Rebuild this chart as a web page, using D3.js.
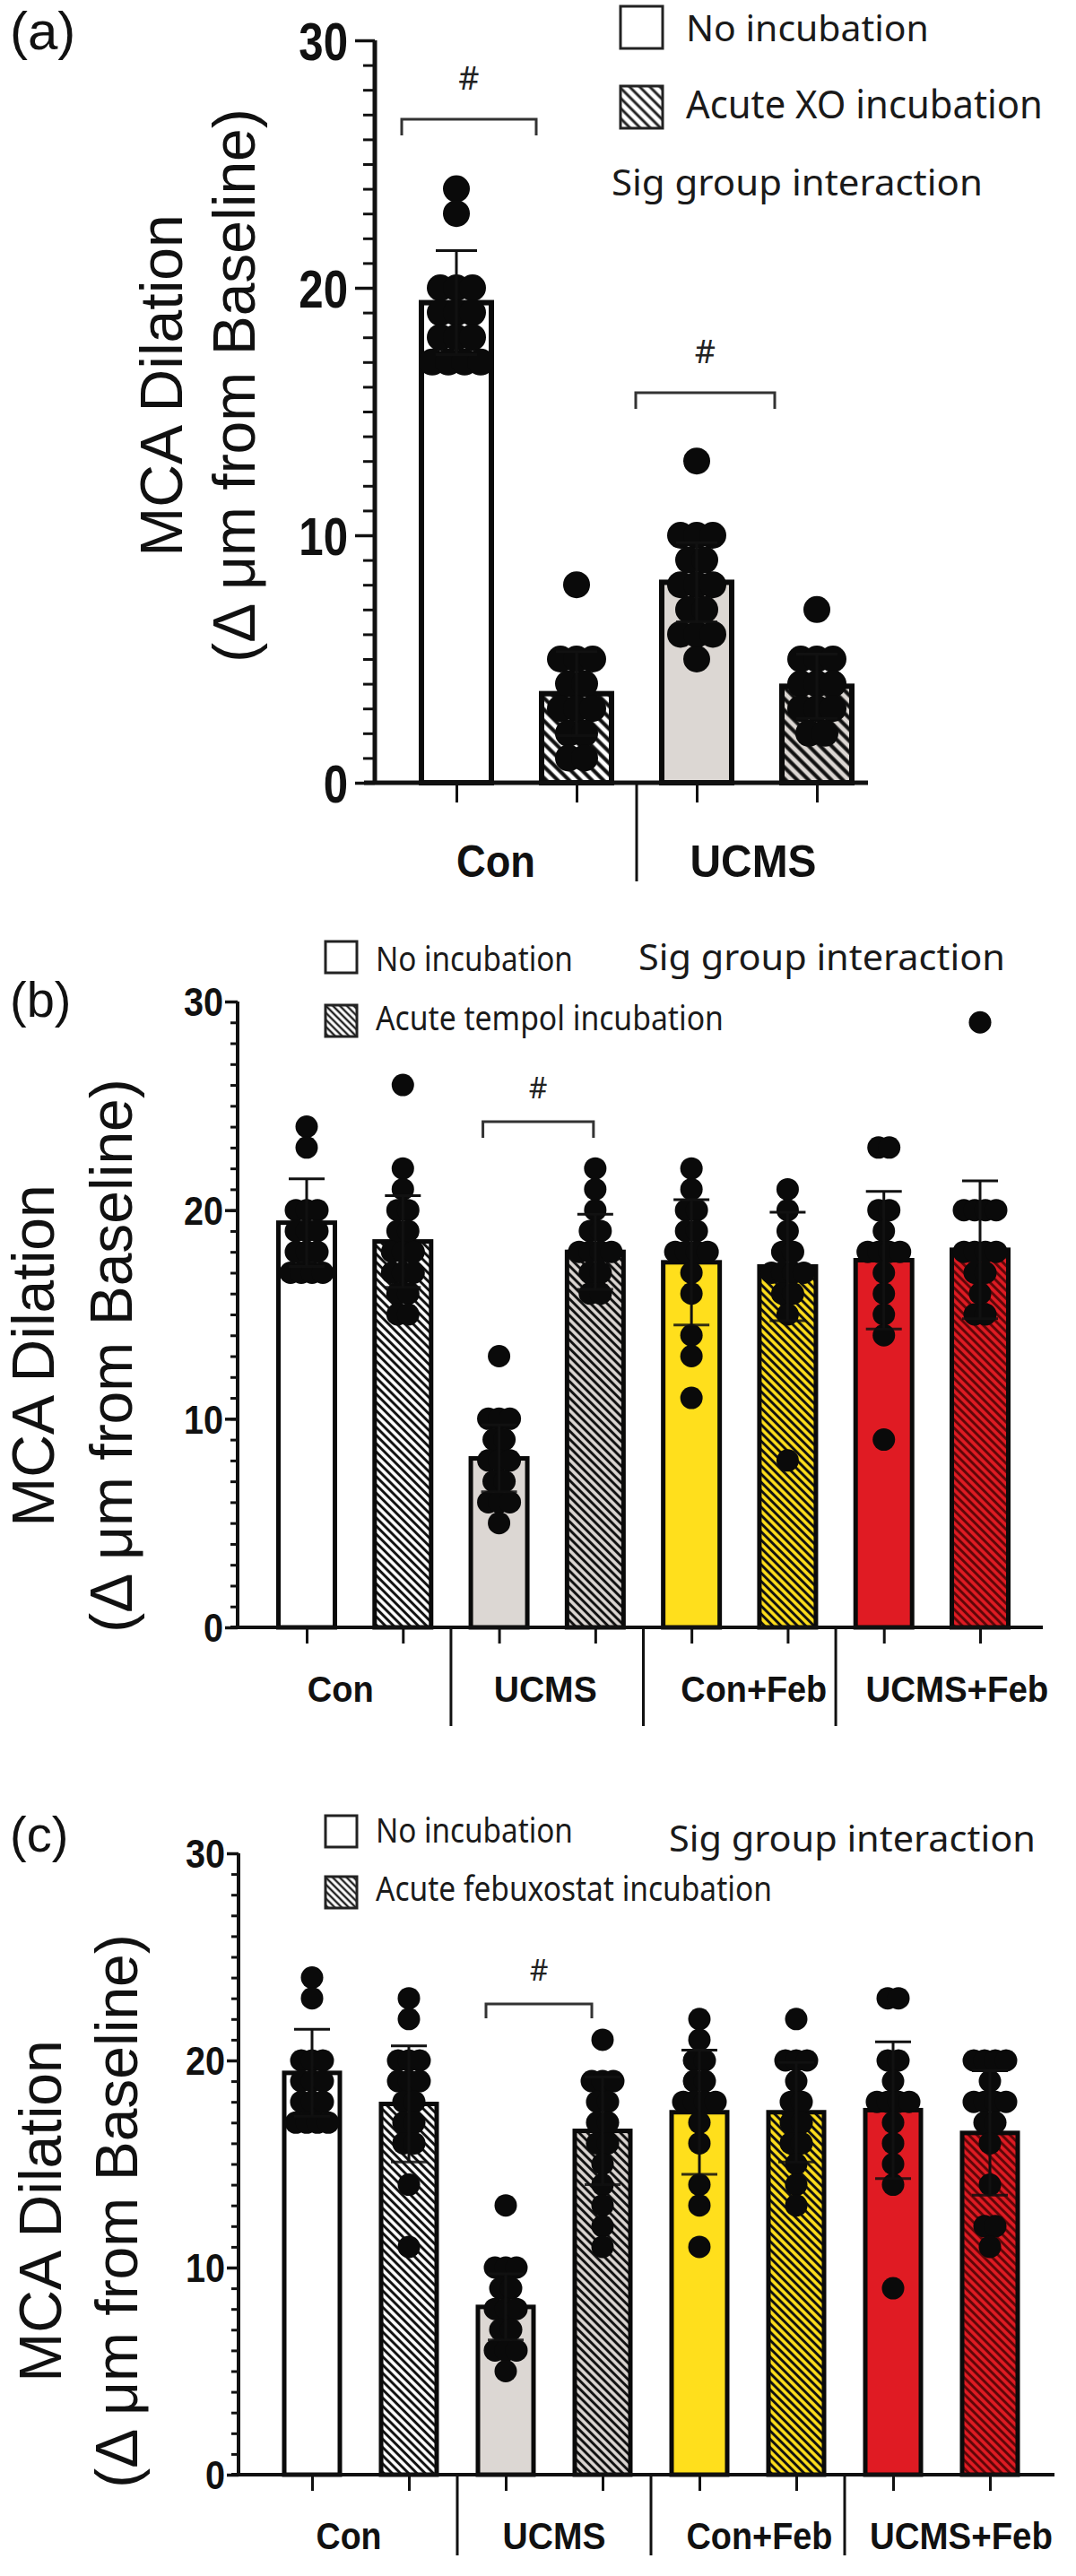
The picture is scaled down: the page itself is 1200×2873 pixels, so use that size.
<!DOCTYPE html>
<html><head><meta charset="utf-8">
<script src="https://cdn.jsdelivr.net/npm/d3@7"></script>
<style>
html,body{margin:0;padding:0;background:#fff;}
svg{display:block;}
</style></head><body>
<svg id="chart" width="1200" height="2873"></svg>
<script>
// ---------------- data ----------------
const yTickValues = [0, 10, 20, 30];
const yMinorValues = d3.range(0, 31, 1);
const panelLetters = ["(a)", "(b)", "(c)"];
const yTitleLine1 = "MCA Dilation";
const yTitleLine2 = "(\u0394 \u03bcm from Baseline)";
const interactionNote = "Sig group interaction";
const sigMark = "#";

// Panel (a)
const categoriesA = ["Con", "UCMS"];
const seriesA = ["No incubation", "Acute XO incubation"];
const meansA = [19.4, 3.6, 8.1, 3.9];
const sdA = [2.1, 1.7, 1.6, 1.3];
const pointsA = [
  [24, 23, 20, 20, 20, 19, 19, 19, 18, 18, 18, 17, 17, 17, 17],
  [8, 5, 5, 5, 4, 4, 3, 3, 3, 2, 2, 1, 1],
  [13, 10, 10, 10, 9, 9, 8, 8, 8, 7, 7, 6, 6, 6, 5],
  [7, 5, 5, 5, 4, 4, 4, 3, 3, 3, 2, 2]
];

// Panel (b)
const categoriesB = ["Con", "UCMS", "Con+Feb", "UCMS+Feb"];
const seriesB = ["No incubation", "Acute tempol incubation"];
const meansB = [19.4, 18.5, 8.1, 18.0, 17.5, 17.3, 17.6, 18.1];
const sdB = [2.1, 2.2, 1.6, 1.8, 3.0, 2.6, 3.3, 3.3];
const pointsB = [
  [24, 23, 20, 20, 20, 19, 19, 19, 18, 18, 18, 17, 17, 17, 17],
  [26, 22, 21, 20, 20, 19, 19, 18, 18, 18, 17, 17, 17, 16, 16, 15, 15],
  [13, 10, 10, 10, 9, 9, 8, 8, 8, 7, 7, 6, 6, 6, 5],
  [22, 21, 20, 19, 19, 18, 18, 18, 18, 17, 17, 16, 16],
  [22, 21, 20, 20, 19, 19, 18, 18, 18, 18, 17, 16, 14, 13, 11],
  [21, 20, 19, 18, 18, 17, 17, 17, 17, 16, 16, 15, 8],
  [23, 23, 20, 20, 19, 18, 18, 18, 18, 17, 16, 15, 14, 9],
  [29, 20, 20, 20, 20, 18, 18, 18, 18, 17, 17, 16, 15, 15]
];

// Panel (c)
const categoriesC = ["Con", "UCMS", "Con+Feb", "UCMS+Feb"];
const seriesC = ["No incubation", "Acute febuxostat incubation"];
const meansC = [19.4, 17.9, 8.1, 16.6, 17.5, 17.5, 17.6, 16.5];
const sdC = [2.1, 2.8, 1.6, 2.6, 3.0, 2.4, 3.3, 3.0];
const pointsC = [
  [24, 23, 20, 20, 20, 19, 19, 19, 18, 18, 18, 17, 17, 17, 17],
  [23, 22, 20, 20, 20, 19, 19, 19, 18, 18, 17, 17, 16, 16, 14, 11],
  [13, 10, 10, 10, 9, 9, 8, 8, 8, 7, 7, 6, 6, 6, 5],
  [21, 19, 19, 19, 18, 18, 17, 17, 16, 16, 15, 14, 13, 12, 11],
  [22, 21, 20, 20, 19, 19, 18, 18, 18, 18, 17, 16, 14, 13, 11],
  [22, 20, 20, 20, 19, 18, 18, 17, 17, 16, 16, 15, 14, 13],
  [23, 23, 20, 20, 19, 18, 18, 18, 18, 17, 16, 15, 14, 9],
  [20, 20, 20, 20, 19, 18, 18, 18, 18, 17, 17, 16, 14, 12, 12, 11]
];

// significance brackets: pairs of bar indices
const bracketsA = [[0, 1], [2, 3]];
const bracketsB = [[2, 3]];
const bracketsC = [[2, 3]];

// ---------------- styles ----------------
const categoryColors = {"Con": "#ffffff", "UCMS": "#dcd7d3", "Con+Feb": "#ffdf1c", "UCMS+Feb": "#e01b23"};
const hatchInk = {"Con": "#111", "UCMS": "#111", "Con+Feb": "#111", "UCMS+Feb": "#5e0608"};

const panels = [
  {
    key: "a", letter: panelLetters[0], categories: categoriesA, series: seriesA,
    means: meansA, sd: sdA, points: pointsA, brackets: bracketsA,
    y0: 873, y30: 45, axisX: 418, xStart: 406, xEnd: 968, firstC: 509, lastC: 911,
    barW: 78, barSW: 6, r: 15, dotGap: 18, hatchPeriod: 9, hatchSW: 4.2,
    tickFont: 60, tickScale: 0.82, majorTick: 22, minorTick: 13, tickPad: 8, axisSW: 5,
    xTick: 22, sepBottom: 983, groupFont: 50, groupBase: 978,
    groupWidths: [88, 141], groupNudge: [-23, -4],
    title: {font: 66, x1: 203, x2: 284, cy: 430},
    letterPos: {x: 11, y: 55, font: 60},
    errCap: 46, errSW: 3,
    legend: {boxX: 692, boxSize: 47, box1Y: 7, box2Y: 96, textX: 765,
             t1Base: 46, t2Base: 132, t1W: 271, t2W: 398, t1Font: 40, t2Font: 44},
    note: {x: 682, base: 218, w: 414, font: 40},
    bracketOff: [[-61, -45], [-68, -47]], bracketTop: [133, 438], bracketLeg: 18, hashFont: 36, hashGap: 33
  },
  {
    key: "b", letter: panelLetters[1], categories: categoriesB, series: seriesB,
    means: meansB, sd: sdB, points: pointsB, brackets: bracketsB,
    y0: 1815, y30: 1117, axisX: 265, xStart: 257, xEnd: 1163, firstC: 342, lastC: 1093,
    barW: 63, barSW: 5, r: 12.5, dotGap: 12, hatchPeriod: 6.5, hatchSW: 3,
    tickFont: 44, tickScale: 0.9, majorTick: 14, minorTick: 8, tickPad: 2, axisSW: 4,
    xTick: 18, sepBottom: 1925, groupFont: 41, groupBase: 1898,
    groupWidths: [74, 115, 163, 204], groupNudge: [-16, -2, 16, 28],
    title: {font: 66, x1: 60, x2: 147, cy: 1512},
    letterPos: {x: 11, y: 1134, font: 56},
    errCap: 40, errSW: 3,
    legend: {boxX: 363, boxSize: 35, box1Y: 1050, box2Y: 1121, textX: 419,
             t1Base: 1083, t2Base: 1149, t1W: 220, t2W: 388, t1Font: 38, t2Font: 38},
    note: {x: 712, base: 1082, w: 409, font: 40},
    bracketOff: [[-18, -2]], bracketTop: [1251], bracketLeg: 18, hashFont: 32, hashGap: 26
  },
  {
    key: "c", letter: panelLetters[2], categories: categoriesC, series: seriesC,
    means: meansC, sd: sdC, points: pointsC, brackets: bracketsC,
    y0: 2760, y30: 2067, axisX: 266, xStart: 258, xEnd: 1176, firstC: 348, lastC: 1104,
    barW: 62, barSW: 5, r: 12.5, dotGap: 12, hatchPeriod: 6.5, hatchSW: 3,
    tickFont: 44, tickScale: 0.9, majorTick: 13, minorTick: 8, tickPad: 2, axisSW: 4,
    xTick: 18, sepBottom: 2850, groupFont: 42, groupBase: 2843,
    groupWidths: [73, 115, 163, 204], groupNudge: [-13, 0, 13, 22],
    title: {font: 66, x1: 68, x2: 153, cy: 2466},
    letterPos: {x: 11, y: 2065, font: 56},
    errCap: 40, errSW: 3,
    legend: {boxX: 363, boxSize: 35, box1Y: 2025, box2Y: 2093, textX: 419,
             t1Base: 2055, t2Base: 2120, t1W: 220, t2W: 442, t1Font: 38, t2Font: 38},
    note: {x: 746, base: 2065, w: 409, font: 40},
    bracketOff: [[-22, -12]], bracketTop: [2235], bracketLeg: 16, hashFont: 32, hashGap: 26
  }
];

const svg = d3.select("#chart");
const defs = svg.append("defs");

function hatchId(panelKey, cat) { return "hatch-" + panelKey + "-" + cat.replace(/\W/g, ""); }
function makeHatch(id, bg, fg, period, sw) {
  const p = defs.append("pattern").attr("id", id).attr("patternUnits", "userSpaceOnUse")
    .attr("width", period).attr("height", period).attr("patternTransform", "rotate(-45)");
  p.append("rect").attr("width", period).attr("height", period).attr("fill", bg);
  p.append("line").attr("x1", period / 2).attr("x2", period / 2).attr("y1", -1).attr("y2", period + 1)
    .attr("stroke", fg).attr("stroke-width", sw);
}

// text squeezed horizontally to a target width (condensed look), kept as real text
function fittedText(parent, str, x, y, targetW, fontSize, family, weight, anchor, fill) {
  const t = parent.append("text").attr("x", 0).attr("y", 0).attr("fill", fill)
    .attr("text-anchor", anchor)
    .style("font-family", family).style("font-weight", weight).style("font-size", fontSize + "px").text(str);
  const natural = t.node().getComputedTextLength();
  const sx = natural > 0 ? targetW / natural : 1;
  t.attr("transform", `translate(${x},${y}) scale(${sx},1)`);
  return t;
}

// beeswarm-like horizontal offsets for equal values
function swarm(values, gap) {
  const counts = d3.rollup(values, v => v.length, d => d);
  const seen = new Map();
  return values.map(v => {
    const n = counts.get(v);
    const k = seen.get(v) || 0;
    seen.set(v, k + 1);
    return {v: v, dx: (k - (n - 1) / 2) * gap};
  });
}

const arial = "'Liberation Sans', Arial, sans-serif";
const calibriLike = "'Noto Sans', 'Open Sans', sans-serif";

panels.forEach(P => {
  const g = svg.append("g");
  const y = d3.scaleLinear().domain([0, 30]).range([P.y0, P.y30]);
  const nBars = P.means.length;
  const x = d3.scalePoint().domain(d3.range(nBars)).range([P.firstC, P.lastC]);
  const barCat = i => P.categories[Math.floor(i / 2)];
  const isTreated = i => i % 2 === 1;

  P.categories.forEach(c => makeHatch(hatchId(P.key, c), categoryColors[c], hatchInk[c], P.hatchPeriod, P.hatchSW));
  makeHatch(hatchId(P.key, "legend"), "#ffffff", "#222", P.key === "a" ? 8 : 5.5, P.key === "a" ? 3 : 2.4);

  const fillOf = i => isTreated(i) ? "url(#" + hatchId(P.key, barCat(i)) + ")" : categoryColors[barCat(i)];

  // bars
  g.append("g").selectAll("rect").data(P.means).join("rect")
    .attr("x", (d, i) => x(i) - P.barW / 2)
    .attr("y", d => y(d))
    .attr("width", P.barW)
    .attr("height", d => y(0) - y(d))
    .attr("fill", (d, i) => fillOf(i))
    .attr("stroke", "#0a0a0a")
    .attr("stroke-width", P.barSW);

  // dots
  const dotData = [];
  P.points.forEach((arr, i) => swarm(arr, P.dotGap).forEach(p => dotData.push({i: i, v: p.v, dx: p.dx})));
  g.append("g").selectAll("circle").data(dotData).join("circle")
    .attr("cx", d => x(d.i) + d.dx)
    .attr("cy", d => y(d.v))
    .attr("r", P.r)
    .attr("fill", "#0a0a0a");

  // error bars (mean ± SD)
  const eg = g.append("g").attr("stroke", "#111").attr("stroke-width", P.errSW);
  P.means.forEach((m, i) => {
    const hi = y(m + P.sd[i]), lo = y(m - P.sd[i]);
    eg.append("line").attr("x1", x(i)).attr("x2", x(i)).attr("y1", hi).attr("y2", lo);
    eg.append("line").attr("x1", x(i) - P.errCap / 2).attr("x2", x(i) + P.errCap / 2).attr("y1", hi).attr("y2", hi);
    eg.append("line").attr("x1", x(i) - P.errCap / 2).attr("x2", x(i) + P.errCap / 2).attr("y1", lo).attr("y2", lo)
      .attr("stroke-opacity", 0.85);
  });

  // y axis: minor ticks
  const minorAxis = d3.axisLeft(y).tickValues(yMinorValues).tickSize(P.minorTick).tickFormat("");
  const ga1 = g.append("g").attr("transform", `translate(${P.axisX},0)`).call(minorAxis);
  ga1.select(".domain").remove();
  ga1.selectAll(".tick line").attr("stroke", "#111").attr("stroke-width", 3);
  // y axis: major ticks + labels (condensed bold)
  const majorAxis = d3.axisLeft(y).tickValues(yTickValues).tickSize(P.majorTick).tickPadding(P.tickPad).tickFormat(d3.format("d"));
  const ga2 = g.append("g").attr("transform", `translate(${P.axisX},0)`).call(majorAxis);
  ga2.select(".domain").attr("stroke", "#111").attr("stroke-width", P.axisSW).attr("d", `M0,${y(0)}V${y(30)}`);
  ga2.selectAll(".tick line").attr("stroke", "#111").attr("stroke-width", 3.5);
  ga2.selectAll(".tick text").attr("fill", "#111")
    .style("font-family", arial)
    .style("font-weight", "bold").style("font-size", P.tickFont + "px")
    .attr("dy", "0.36em")
    .each(function () {
      const t = d3.select(this);
      const tx = +t.attr("x");
      t.attr("x", 0).attr("transform", `translate(${tx},0) scale(${P.tickScale},1)`);
    });

  // x axis baseline & ticks
  g.append("line").attr("x1", P.xStart).attr("x2", P.xEnd).attr("y1", y(0)).attr("y2", y(0))
    .attr("stroke", "#111").attr("stroke-width", P.axisSW);
  const xAxis = d3.axisBottom(x).tickSize(P.xTick).tickFormat("");
  const gx = g.append("g").attr("transform", `translate(0,${y(0)})`).call(xAxis);
  gx.select(".domain").remove();
  gx.selectAll(".tick line").attr("stroke", "#111").attr("stroke-width", 3);

  // group separators & labels
  P.categories.forEach((c, k) => {
    const cx = (x(2 * k) + x(2 * k + 1)) / 2;
    if (k < P.categories.length - 1) {
      const sx = (x(2 * k + 1) + x(2 * k + 2)) / 2;
      g.append("line").attr("x1", sx).attr("x2", sx).attr("y1", y(0)).attr("y2", P.sepBottom)
        .attr("stroke", "#111").attr("stroke-width", 3);
    }
    fittedText(g, c, cx + P.groupNudge[k], P.groupBase, P.groupWidths[k], P.groupFont, arial, "bold", "middle", "#111");
  });

  // y title
  [[yTitleLine1, P.title.x1], [yTitleLine2, P.title.x2]].forEach(([t, bx]) => {
    g.append("text").attr("transform", `translate(${bx},${P.title.cy}) rotate(-90)`)
      .attr("text-anchor", "middle").attr("fill", "#111")
      .style("font-family", arial)
      .style("font-size", P.title.font + "px").text(t);
  });

  // panel letter
  g.append("text").attr("x", P.letterPos.x).attr("y", P.letterPos.y).attr("fill", "#111")
    .style("font-family", arial)
    .style("font-size", P.letterPos.font + "px").text(P.letter);

  // legend
  const L = P.legend;
  g.append("rect").attr("x", L.boxX).attr("y", L.box1Y).attr("width", L.boxSize).attr("height", L.boxSize)
    .attr("fill", "#fff").attr("stroke", "#222").attr("stroke-width", 3);
  g.append("rect").attr("x", L.boxX).attr("y", L.box2Y).attr("width", L.boxSize).attr("height", L.boxSize)
    .attr("fill", "url(#" + hatchId(P.key, "legend") + ")").attr("stroke", "#222").attr("stroke-width", 3);
  fittedText(g, P.series[0], L.textX, L.t1Base, L.t1W, L.t1Font, calibriLike, "normal", "start", "#1a1a1a");
  fittedText(g, P.series[1], L.textX, L.t2Base, L.t2W, L.t2Font, calibriLike, "normal", "start", "#1a1a1a");
  fittedText(g, interactionNote, P.note.x, P.note.base, P.note.w, P.note.font, calibriLike, "normal", "start", "#1a1a1a");

  // significance brackets
  P.brackets.forEach((br, bi) => {
    const xl = x(br[0]) + P.bracketOff[bi][0];
    const xr = x(br[1]) + P.bracketOff[bi][1];
    const top = P.bracketTop[bi];
    g.append("path").attr("d", `M${xl},${top + P.bracketLeg}V${top}H${xr}V${top + P.bracketLeg}`)
      .attr("fill", "none").attr("stroke", "#333").attr("stroke-width", 3);
    g.append("text").attr("x", (xl + xr) / 2).attr("y", top - P.hashGap).attr("text-anchor", "middle")
      .attr("fill", "#222").style("font-family", calibriLike)
      .style("font-size", P.hashFont + "px").text(sigMark);
  });
});
</script>
</body></html>
